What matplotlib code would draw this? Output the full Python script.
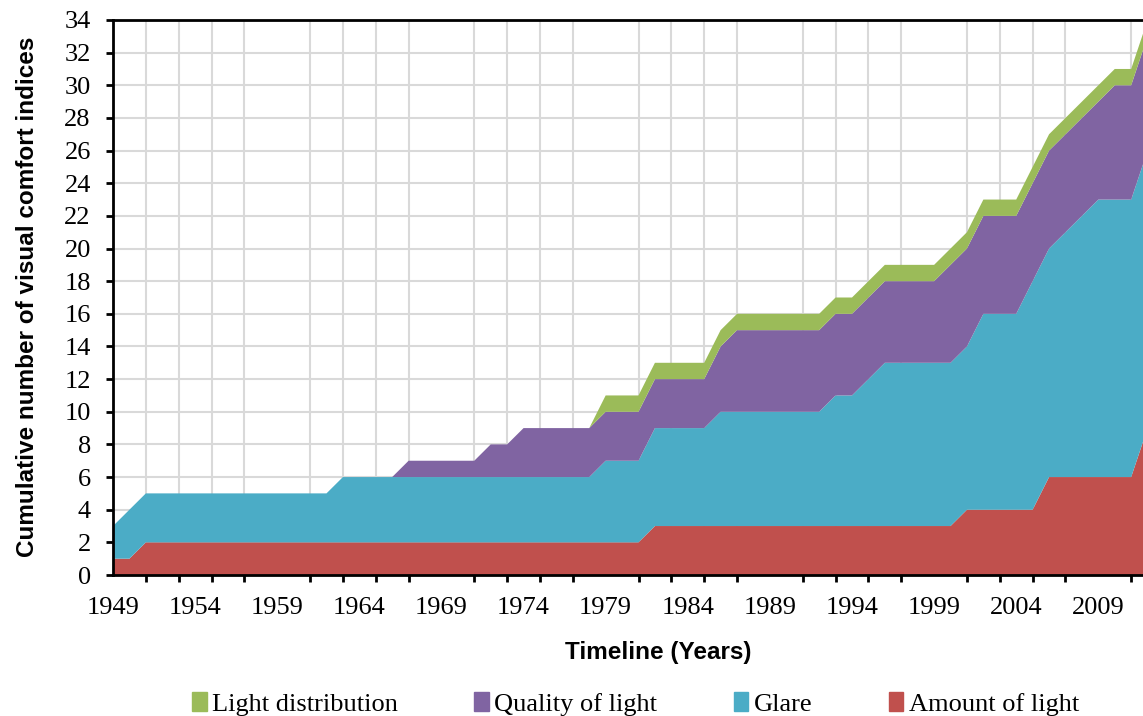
import matplotlib
matplotlib.use("Agg")
import matplotlib.pyplot as plt
from matplotlib.patches import Patch
from matplotlib.ticker import FixedLocator

# --- Data (number of indices added per category, cumulative by year) ---
years = list(range(1949, 2013))

amount_of_light = [
    1, 1, 2, 2, 2, 2, 2, 2, 2, 2,        # 1949-1958
    2, 2, 2, 2, 2, 2, 2, 2, 2, 2,        # 1959-1968
    2, 2, 2, 2, 2, 2, 2, 2, 2, 2,        # 1969-1978
    2, 2, 2, 3, 3, 3, 3, 3, 3, 3,        # 1979-1988
    3, 3, 3, 3, 3, 3, 3, 3, 3, 3,        # 1989-1998
    3, 3, 4, 4, 4, 4, 4, 6, 6, 6,        # 1999-2008
    6, 6, 6, 9,                          # 2009-2012
]
glare = [
    2, 3, 3, 3, 3, 3, 3, 3, 3, 3,
    3, 3, 3, 3, 4, 4, 4, 4, 4, 4,
    4, 4, 4, 4, 4, 4, 4, 4, 4, 4,
    5, 5, 5, 6, 6, 6, 6, 7, 7, 7,
    7, 7, 7, 7, 8, 8, 9, 10, 10, 10,
    10, 10, 10, 12, 12, 12, 14, 14, 15, 16,
    17, 17, 17, 17,
]
quality_of_light = [
    0, 0, 0, 0, 0, 0, 0, 0, 0, 0,
    0, 0, 0, 0, 0, 0, 0, 0, 1, 1,
    1, 1, 1, 2, 2, 3, 3, 3, 3, 3,
    3, 3, 3, 3, 3, 3, 3, 4, 5, 5,
    5, 5, 5, 5, 5, 5, 5, 5, 5, 5,
    5, 6, 6, 6, 6, 6, 6, 6, 6, 6,
    6, 7, 7, 7,
]
light_distribution = [
    0, 0, 0, 0, 0, 0, 0, 0, 0, 0,
    0, 0, 0, 0, 0, 0, 0, 0, 0, 0,
    0, 0, 0, 0, 0, 0, 0, 0, 0, 0,
    1, 1, 1, 1, 1, 1, 1, 1, 1, 1,
    1, 1, 1, 1, 1, 1, 1, 1, 1, 1,
    1, 1, 1, 1, 1, 1, 1, 1, 1, 1,
    1, 1, 1, 1,
]

labels = ["Amount of light", "Glare", "Quality of light", "Light distribution"]
colors = ["#C0504D", "#4BACC6", "#8064A2", "#9BBB59"]
label_years = list(range(1949, 2010, 5))
grid_years = list(range(1949, 2012, 2))
y_ticks = list(range(0, 35, 2))

serif = ["Liberation Serif", "DejaVu Serif"]
narrow = ["Liberation Sans Narrow", "Liberation Sans", "DejaVu Sans"]
plt.rcParams["font.family"] = serif

# --- Plot ---
fig = plt.figure(figsize=(11.43, 7.16), dpi=100)
ax = fig.add_axes([113 / 1143, 1 - 575 / 716, 1 - 113 / 1143, (575 - 20) / 716])

ax.stackplot(years, amount_of_light, glare, quality_of_light, light_distribution,
             colors=colors, linewidth=0, zorder=2)

ax.set_xlim(1949, 2011.72)
ax.set_ylim(0, 34)

# vertical grid every 2 years, labels every 5 years
ax.xaxis.set_major_locator(FixedLocator(label_years))
ax.xaxis.set_minor_locator(FixedLocator(grid_years))
ax.set_xticklabels([str(y) for y in label_years])
ax.tick_params(axis="x", which="major", length=0, pad=16, labelsize=19)
ax.tick_params(axis="x", which="minor", length=5, width=2, direction="out", color="black")
ax.set_yticks(y_ticks)
ax.tick_params(axis="y", length=5, width=2, direction="out", pad=11, labelsize=19)

ax.grid(True, axis="x", which="minor", color="#D9D9D9", linewidth=1.5)
ax.grid(True, axis="y", which="major", color="#D9D9D9", linewidth=1.5)
ax.set_axisbelow(True)

for side in ["left", "bottom", "top"]:
    ax.spines[side].set_linewidth(2)
    ax.spines[side].set_color("black")
    ax.spines[side].set_zorder(5)
ax.spines["right"].set_visible(False)

fig.text(658 / 1143, 1 - 652 / 716, "Timeline (Years)", ha="center", va="center",
         fontsize=17.5, fontweight="bold", family=narrow)
fig.text(28 / 1143, 1 - 297 / 716, "Cumulative number of visual comfort indices",
         ha="center", va="center", rotation=90, fontsize=17.5, fontweight="bold",
         family=narrow)

handles = [Patch(color=c, label=l) for c, l in zip(colors, labels)][::-1]
leg = fig.legend(handles=handles, loc="center", ncol=4, frameon=False,
                 bbox_to_anchor=(0.556, 1 - 704 / 716), handlelength=0.55,
                 handleheight=0.75, handletextpad=0.2, columnspacing=2.9,
                 prop={"family": serif, "size": 19})

fig.savefig("out.png", dpi=100)
